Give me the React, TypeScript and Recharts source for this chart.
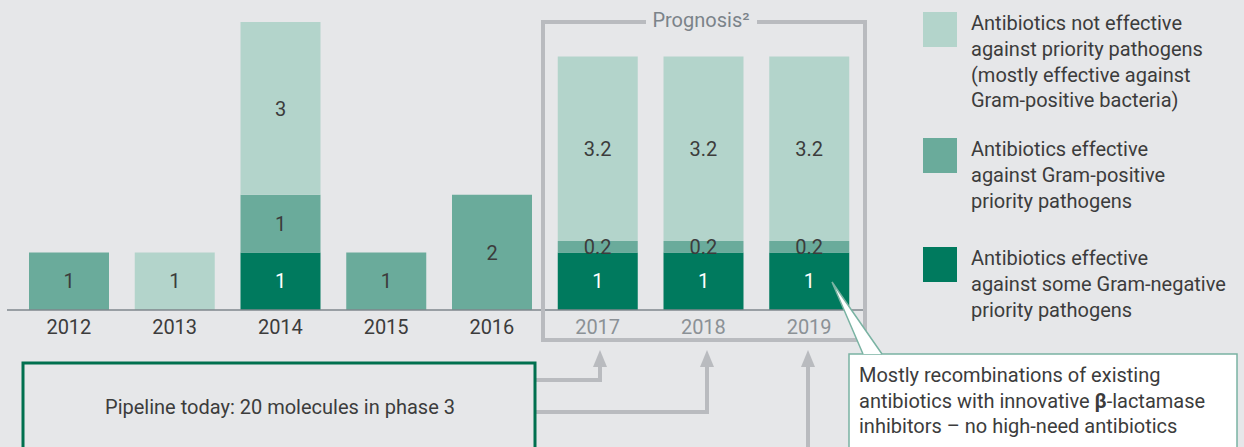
import React from "react";
import { BarChart, Bar, XAxis, YAxis, LabelList } from "recharts";

const years = ["2012", "2013", "2014", "2015", "2016", "2017", "2018", "2019"];
const gramNegative = [null, null, 1, null, null, 1, 1, 1];
const gramPositive = [1, null, 1, 1, 2, 0.2, 0.2, 0.2];
const notEffective = [null, 1, 3, null, null, 3.2, 3.2, 3.2];
const prognosisYears = ["2017", "2018", "2019"];

const legendItems = [
  {
    color: "#b3d4cb",
    lines: [
      "Antibiotics not effective",
      "against priority pathogens",
      "(mostly effective against",
      "Gram-positive bacteria)",
    ],
  },
  {
    color: "#6aab9b",
    lines: ["Antibiotics effective", "against Gram-positive", "priority pathogens"],
  },
  {
    color: "#007a5e",
    lines: ["Antibiotics effective", "against some Gram-negative", "priority pathogens"],
  },
];

const noteLines = [
  "Mostly recombinations of existing",
  "antibiotics with innovative ",
  "inhibitors – no high-need antibiotics",
];

const data = years.map((year, i) => ({
  year,
  negative: gramNegative[i],
  positive: gramPositive[i],
  none: notEffective[i],
}));

const FONT = "Roboto, 'Noto Sans', sans-serif";
const TEXT = "#3c3c3c";
const GREY = "#b9bbbf";

const makeLabel = (fill: string) => (props: any) => {
  const { x, y, width, height, value } = props;
  if (value == null) return null;
  return (
    <text
      x={x + width / 2}
      y={y + height / 2}
      dy="0.36em"
      textAnchor="middle"
      fill={fill}
      fontSize={20}
      fontFamily={FONT}
    >
      {value}
    </text>
  );
};

const YearTick = (props: any) => {
  const { x, y, payload } = props;
  const grey = prognosisYears.includes(payload.value);
  return (
    <text
      x={x}
      y={y}
      dy="0.71em"
      textAnchor="middle"
      fill={grey ? "#8b9196" : TEXT}
      fontSize={20}
      fontFamily={FONT}
    >
      {payload.value}
    </text>
  );
};

export default function App() {
  return (
    <div
      style={{
        position: "relative",
        width: 1244,
        height: 447,
        background: "#e6e7e9",
        overflow: "hidden",
        fontFamily: FONT,
      }}
    >
      <style>{`body{margin:0}`}</style>
      <BarChart
        width={1244}
        height={447}
        data={data}
        margin={{ top: 22, right: 382, bottom: 107, left: 16 }}
      >
        <XAxis
          dataKey="year"
          height={30}
          axisLine={false}
          tickLine={false}
          tickMargin={4}
          tick={<YearTick />}
        />
        <YAxis hide domain={[0, 5]} />
        <Bar dataKey="negative" stackId="a" fill="#007a5e" barSize={80} isAnimationActive={false}>
          <LabelList dataKey="negative" content={makeLabel("#ffffff")} />
        </Bar>
        <Bar dataKey="positive" stackId="a" fill="#6aab9b" barSize={80} isAnimationActive={false}>
          <LabelList dataKey="positive" content={makeLabel(TEXT)} />
        </Bar>
        <Bar dataKey="none" stackId="a" fill="#b3d4cb" barSize={80} isAnimationActive={false}>
          <LabelList dataKey="none" content={makeLabel(TEXT)} />
        </Bar>
      </BarChart>

      <svg
        width={1244}
        height={447}
        style={{ position: "absolute", left: 0, top: 0, pointerEvents: "none" }}
        fontFamily={FONT}
      >
        {/* baseline */}
        <line x1={7} x2={866} y1={310} y2={310} stroke="#7f878c" strokeWidth={1.5} />

        {/* prognosis box */}
        <path
          d="M646 22 H543 V340 H865 V22 H757"
          fill="none"
          stroke={GREY}
          strokeWidth={4}
        />
        <text x={701} y={27} textAnchor="middle" fill="#7b8389" fontSize={20}>
          Prognosis²
        </text>

        {/* arrows */}
        <g fill="none" stroke={GREY} strokeWidth={4}>
          <path d="M535 380 H600 V364" />
          <path d="M535 412 H707 V364" />
          <path d="M808 447 V364" />
        </g>
        <g fill={GREY}>
          <polygon points="600,350 593,367 607,367" />
          <polygon points="707,350 700,367 714,367" />
          <polygon points="808,350 801,367 815,367" />
        </g>

        {/* pipeline box */}
        <rect x={23} y={363} width={512} height={100} fill="none" stroke="#00704f" strokeWidth={3} />
        <text x={280} y={414} textAnchor="middle" fill={TEXT} fontSize={20}>
          Pipeline today: 20 molecules in phase 3
        </text>

        {/* note box */}
        <rect x={849} y={354} width={388} height={100} fill="#ffffff" stroke="#7ab3a3" strokeWidth={1.5} />
        <polygon points="832,282 863,354 882,354" fill="#ffffff" />
        <polyline points="863,354 832,282 882,354" fill="none" stroke="#7ab3a3" strokeWidth={1.5} />
        {noteLines.map((line, i) => (
          <text key={i} x={859} y={382 + i * 25.5} fill={TEXT} fontSize={20}>
            {line}
            {i === 1 && (
              <>
                <tspan fontWeight={700}>β</tspan>
                <tspan>-lactamase</tspan>
              </>
            )}
          </text>
        ))}

        {/* legend */}
        {legendItems.map((item, i) => {
          const top = [12, 138, 247][i];
          return (
            <g key={i}>
              <rect x={923} y={top} width={34} height={35} fill={item.color} />
              {item.lines.map((line, j) => (
                <text key={j} x={971} y={top + 18 + j * 25.8} fill={TEXT} fontSize={20}>
                  {line}
                </text>
              ))}
            </g>
          );
        })}
      </svg>
    </div>
  );
}
